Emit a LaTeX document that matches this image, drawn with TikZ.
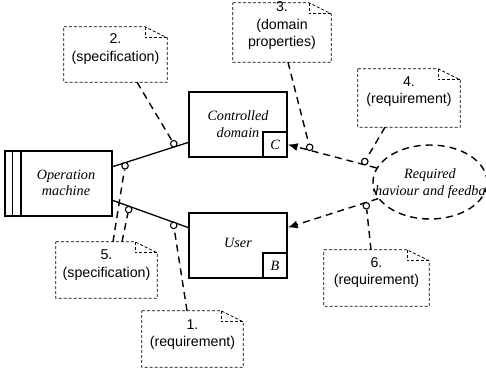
\documentclass[tikz,border=0pt]{standalone}
\usepackage{fontspec}
\setmainfont{Liberation Serif}
\newfontfamily\notefont{Liberation Sans}
\usetikzlibrary{calc,arrows.meta,shapes.geometric}

% folded-corner outline drawn around a named (invisible) note node
\newcommand\foldednote[1]{%
  \draw[notedash] (#1.north west) -- ([xshift=-22pt]#1.north east)
    -- ([yshift=-11pt]#1.north east) -- (#1.south east) -- (#1.south west) -- cycle;
  \draw[notedash] ([xshift=-22pt]#1.north east) -- ([xshift=-22pt,yshift=-11pt]#1.north east)
    -- ([yshift=-11pt]#1.north east);}

\begin{document}
\begin{tikzpicture}[x=1pt,y=-1pt,
  box/.style={draw,line width=1.4pt,rectangle,inner sep=0pt},
  wire/.style={line width=1.3pt},
  link/.style={line width=1.4pt,dash pattern=on 7pt off 5pt},
  notedash/.style={line width=0.8pt,dash pattern=on 3pt off 2pt},
  notebox/.style={inner sep=0pt},
  itext/.style={font=\fontsize{14.2}{16.5}\selectfont\itshape,align=center,inner sep=0pt},
  notetext/.style={font=\notefont\fontsize{14.2}{17.5}\selectfont,align=center,inner sep=0pt},
  pin/.style={circle,draw,fill=white,line width=1.1pt,minimum size=6.5pt,inner sep=0pt},
  tip/.style={-{Latex[length=10pt,width=8pt]}}]
\useasboundingbox (0,0) rectangle (486,373);

% machine and problem domains
\node[box,minimum width=107pt,minimum height=65pt] (om) at (58.5,183.5) {};
\draw[box] ([xshift=8.3pt]om.north west) -- ([xshift=8.3pt]om.south west);
\draw[box] ([xshift=16.7pt]om.north west) -- ([xshift=16.7pt]om.south west);
\node[itext] (omt) at (66,183) {Operation\\machine};

\node[box,minimum width=98pt,minimum height=65pt] (ctrl) at (238,124.5) {};
\node[itext] (ctrlt) at (238,124) {Controlled\\domain};
\node[box,minimum width=24pt,minimum height=25pt,anchor=south east,
      font=\fontsize{14.2}{16}\selectfont\itshape] (cbox) at (ctrl.south east) {C};

\node[box,minimum width=98pt,minimum height=65pt] (user) at (238,245.5) {};
\node[itext] (usert) at (238,243) {User};
\node[box,minimum width=24pt,minimum height=25pt,anchor=south east,
      font=\fontsize{14.2}{16}\selectfont\itshape] (bbox) at (user.south east) {B};

% requirement ellipse, its text cut to the ellipse's width
\node[draw,ellipse,link,minimum width=114pt,minimum height=74pt,inner sep=0pt] (ell) at (430,182) {};
\begin{scope}
  \clip (373,140) rectangle (488,226);
  \node[itext] (ellt) at (430,183.5) {Required\\behaviour and feedback};
\end{scope}

% notes
\node[notebox,minimum width=103pt,minimum height=55pt] (n2) at (115.5,54.5) {};
\node[notebox,minimum width=98pt,minimum height=59pt] (n3) at (282,32.5) {};
\node[notebox,minimum width=102pt,minimum height=58pt] (n4) at (409,98) {};
\node[notebox,minimum width=101pt,minimum height=56pt] (n5) at (106.5,270) {};
\node[notebox,minimum width=105pt,minimum height=56pt] (n6) at (376.5,278) {};
\node[notebox,minimum width=101pt,minimum height=56pt] (n1) at (192.5,339) {};
\foldednote{n2}\foldednote{n3}\foldednote{n4}\foldednote{n5}\foldednote{n6}\foldednote{n1}
\node[notetext] (n2t) at ([yshift=5.5pt]n2.center) {2.\\(specification)};
\node[notetext] (n3t) at ([yshift=6.5pt]n3.center) {3.\\(domain\\properties)};
\node[notetext] (n4t) at ([yshift=6.5pt]n4.center) {4.\\(requirement)};
\node[notetext] (n5t) at ([yshift=5pt]n5.center) {5.\\(specification)};
\node[notetext] (n6t) at ([yshift=5.5pt]n6.center) {6.\\(requirement)};
\node[notetext] (n1t) at ([yshift=4.5pt]n1.center) {1.\\(requirement)};

% interfaces
\coordinate (om1) at ($(om.north east)!0.246!(om.south east)$);
\coordinate (om2) at ($(om.north east)!0.754!(om.south east)$);
\coordinate (ct1) at ($(ctrl.north west)!0.77!(ctrl.south west)$);
\coordinate (us1) at ($(user.north west)!0.23!(user.south west)$);
\coordinate (us2) at ($(user.north east)!0.23!(user.south east)$);
\draw[wire] (om1) -- (ct1);
\draw[wire] (om2) -- (us1);
\draw[link,tip] (ell) -- (cbox.east);
\draw[link,tip] (ell) -- (us2);

% note attachment points
\coordinate (a2) at ([xshift=21.5pt]n2.south);
\coordinate (a3) at ([xshift=6pt]n3.south);
\coordinate (a4) at ([xshift=-24pt]n4.south);
\coordinate (a5) at ([xshift=6.5pt]n5.north);
\coordinate (a5b) at ([xshift=15.5pt]n5.north);
\coordinate (a6) at ([xshift=-5.5pt]n6.north);
\coordinate (a1) at ([xshift=-5.5pt]n1.north);

% points on the interfaces
\path (om1) -- (ct1) coordinate[pos=0.83] (q2) coordinate[pos=0.17] (q5);
\path (om2) -- (us1) coordinate[pos=0.22] (q5b) coordinate[pos=0.8] (q1);
\path (ell.center) -- (cbox.east) coordinate[pos=0.84] (q3) coordinate[pos=0.47] (q4);
\path (ell.center) -- (us2) coordinate[pos=0.45] (q6);

\node[pin] (k2) at ($(q2)!3.3pt!(a2)$) {};
\node[pin] (k5) at ($(q5)!3.3pt!(a5)$) {};
\node[pin] (k5b) at ($(q5b)!3.3pt!(a5b)$) {};
\node[pin] (k1) at ($(q1)!3.3pt!(a1)$) {};
\node[pin] (k3) at ($(q3)!3.3pt!(a3)$) {};
\node[pin] (k4) at ($(q4)!3.3pt!(a4)$) {};
\node[pin] (k6) at ($(q6)!3.3pt!(a6)$) {};

\draw[link] (a2) -- (k2);
\draw[link] (a3) -- (k3);
\draw[link] (a4) -- (k4);
\draw[link] (a5) -- (k5);
\draw[link] (a5b) -- (k5b);
\draw[link] (a6) -- (k6);
\draw[link] (a1) -- (k1);
\end{tikzpicture}
\end{document}
